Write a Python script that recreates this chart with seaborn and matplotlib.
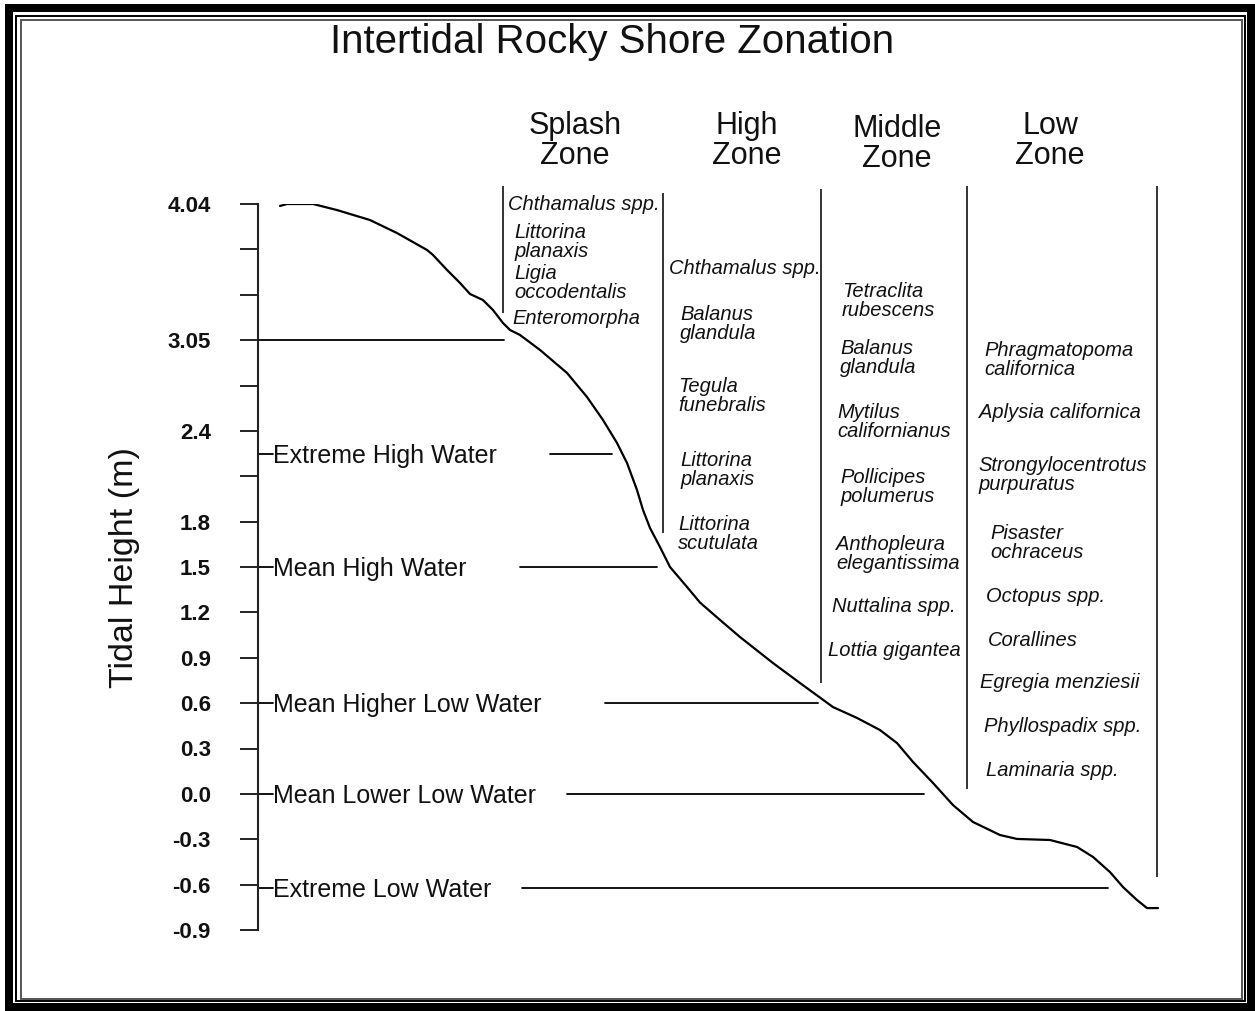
import matplotlib
matplotlib.use("Agg")
import matplotlib.pyplot as plt
import seaborn as sns
import numpy as np
import pandas as pd
from matplotlib.patches import Rectangle

# ---------------- data ----------------
tick_positions = [3.9, 3.6, 3.3, 3.0, 2.7, 2.4, 2.1, 1.8, 1.5, 1.2, 0.9, 0.6, 0.3, 0.0, -0.3, -0.6, -0.9]
tick_labels = ["4.04", "", "", "3.05", "", "2.4", "", "1.8", "1.5", "1.2", "0.9", "0.6",
               "0.3", "0.0", "-0.3", "-0.6", "-0.9"]

# shore profile: horizontal distance (drawing units) vs tidal height (m)
shore_x = [280, 287, 313, 337, 370, 397, 427, 433, 447, 460, 470, 483, 493, 503, 510, 520,
           540, 567, 587, 603, 617, 627, 637, 643, 650, 660, 670, 687, 700, 720, 740, 773,
           800, 833, 857, 880, 897, 913, 933, 953, 973, 1000, 1017, 1050, 1077, 1093, 1110,
           1123, 1137, 1147, 1158]
shore_height = [3.887, 3.900, 3.900, 3.860, 3.794, 3.708, 3.596, 3.563, 3.464, 3.378, 3.305,
                3.265, 3.199, 3.113, 3.067, 3.034, 2.935, 2.783, 2.624, 2.472, 2.320, 2.188,
                2.009, 1.877, 1.758, 1.632, 1.500, 1.368, 1.265, 1.150, 1.037, 0.865, 0.733,
                0.574, 0.502, 0.422, 0.336, 0.211, 0.072, -0.074, -0.186, -0.272, -0.298,
                -0.305, -0.351, -0.417, -0.517, -0.616, -0.702, -0.755, -0.755]

level_names = ["Extreme High Water", "Mean High Water", "Mean Higher Low Water",
               "Mean Lower Low Water", "Extreme Low Water"]
level_heights = [2.25, 1.5, 0.6, 0.0, -0.62]
level_line_start = [550, 520, 605, 567, 522]
level_line_end = [612, 657, 818, 924, 1108]

splash_limit_height = 3.0
splash_limit_end = 504

zone_names = ["Splash\nZone", "High\nZone", "Middle\nZone", "Low\nZone"]
divider_x = [503, 663, 821, 967, 1157]
divider_top = [4.02, 3.97, 4.00, 4.02, 4.02]
divider_bottom = [3.18, 1.725, 0.733, 0.032, -0.55]

splash_species = ["Chthamalus spp.", "Littorina\nplanaxis", "Ligia\noccodentalis", "Enteromorpha"]
high_species = ["Chthamalus spp.", "Balanus\nglandula", "Tegula\nfunebralis",
                "Littorina\nplanaxis", "Littorina\nscutulata"]
middle_species = ["Tetraclita\nrubescens", "Balanus\nglandula", "Mytilus\ncalifornianus",
                  "Pollicipes\npolumerus", "Anthopleura\nelegantissima", "Nuttalina spp.",
                  "Lottia gigantea"]
low_species = ["Phragmatopoma\ncalifornica", "Aplysia californica",
               "Strongylocentrotus\npurpuratus", "Pisaster\nochraceus", "Octopus spp.",
               "Corallines", "Egregia menziesii", "Phyllospadix spp.", "Laminaria spp."]

title = "Intertidal Rocky Shore Zonation"
ylabel = "Tidal Height (m)"

# ---------------- layout ----------------
W, H = 1255, 1011
sns.set_theme(style="white")
plt.rcParams["font.family"] = ["Liberation Sans", "DejaVu Sans"]

fig = plt.figure(figsize=(W / 100, H / 100), dpi=100)
fig.patch.set_facecolor("white")

def fx(x):
    return x / W

def fy(y):
    return 1 - y / H

# frame
fig.patches.append(Rectangle((fx(5), fy(1011)), fx(1250), 1007 / H, transform=fig.transFigure,
                             facecolor="black", edgecolor="none", zorder=-3))
fig.patches.append(Rectangle((fx(13), fy(1003)), fx(1234), 991 / H, transform=fig.transFigure,
                             facecolor="white", edgecolor="none", zorder=-2))
fig.patches.append(Rectangle((fx(16), fy(1001)), fx(1229), 985 / H, transform=fig.transFigure,
                             facecolor="none", edgecolor="black", lw=1.4, zorder=-1))
fig.patches.append(Rectangle((fx(21), fy(999)), fx(1221), 979 / H, transform=fig.transFigure,
                             facecolor="none", edgecolor="#555555", lw=1.4, zorder=-1))

ax_left, ax_right, ax_top, ax_bottom = 258, 1160, 204, 930
ax = fig.add_axes([fx(ax_left), fy(ax_bottom), (ax_right - ax_left) / W, (ax_bottom - ax_top) / H])
ax.set_zorder(5)
ax.set_facecolor("none")
ax.set_xlim(ax_left, ax_right)
ax.set_ylim(-0.9, 3.9)
for s in ["top", "right", "bottom"]:
    ax.spines[s].set_visible(False)
ax.spines["left"].set_color("#222222")
ax.spines["left"].set_linewidth(1.5)
ax.set_xticks([])
ax.set_yticks(tick_positions)
ax.set_yticklabels(tick_labels)
ax.tick_params(axis="y", direction="out", length=13, width=1.4, color="#222222", pad=21,
               left=True)
for lab in ax.get_yticklabels():
    lab.set_fontfamily(["Liberation Sans Narrow", "Liberation Sans"])
    lab.set_fontweight("bold")
    lab.set_fontsize(16)
    lab.set_color("#111111")

# shore profile
sns.lineplot(x=shore_x, y=shore_height, ax=ax, color="black", lw=1.6, sort=False,
             estimator=None, legend=False, solid_joinstyle="round")

# splash limit line
ax.plot([ax_left, splash_limit_end], [splash_limit_height] * 2, color="black", lw=1.3,
        clip_on=False)

# tide levels
for name, h, x0, x1 in zip(level_names, level_heights, level_line_start, level_line_end):
    ax.plot([ax_left, 273], [h, h], color="black", lw=1.3, clip_on=False)
    ax.plot([x0, x1], [h, h], color="black", lw=1.3, clip_on=False)
    ax.text(273, h - 0.06, name, ha="left", va="baseline", fontsize=18, color="#111111")

# zone dividers
ax.vlines(divider_x, divider_bottom, divider_top, colors="#333333", lw=1.4, clip_on=False)

# titles
fig.text(fx(612), fy(42), title, ha="center", va="center", fontsize=29, color="#111111")
fig.text(fx(125), fy(568), ylabel, ha="center", va="center", rotation=90, fontsize=24.5,
         color="#111111")

header_x = [575, 747, 897, 1050]
header_y = [141, 141, 144, 141]
for name, x, y in zip(zone_names, header_x, header_y):
    fig.text(fx(x), fy(y), name, ha="center", va="center", fontsize=22, linespacing=0.97,
             color="#111111")

# species
def put(names, xs, ys):
    for n, x, y in zip(names, xs, ys):
        fig.text(fx(x), fy(y), n, ha="left", va="center", fontsize=14.5, style="italic",
                 linespacing=0.95, color="#111111")

put(splash_species, [508, 514, 514, 512], [204, 242, 283, 318])
put(high_species, [669, 680, 678, 680, 678], [269, 324, 396, 470, 534])
put(middle_species, [842, 840, 837, 840, 836, 832, 828], [301, 358, 422, 487, 554, 606, 651])
put(low_species, [984, 979, 978, 990, 986, 988, 980, 984, 986],
    [360, 413, 475, 543, 596, 640, 683, 727, 771])

fig.savefig("out.png", dpi=100)
